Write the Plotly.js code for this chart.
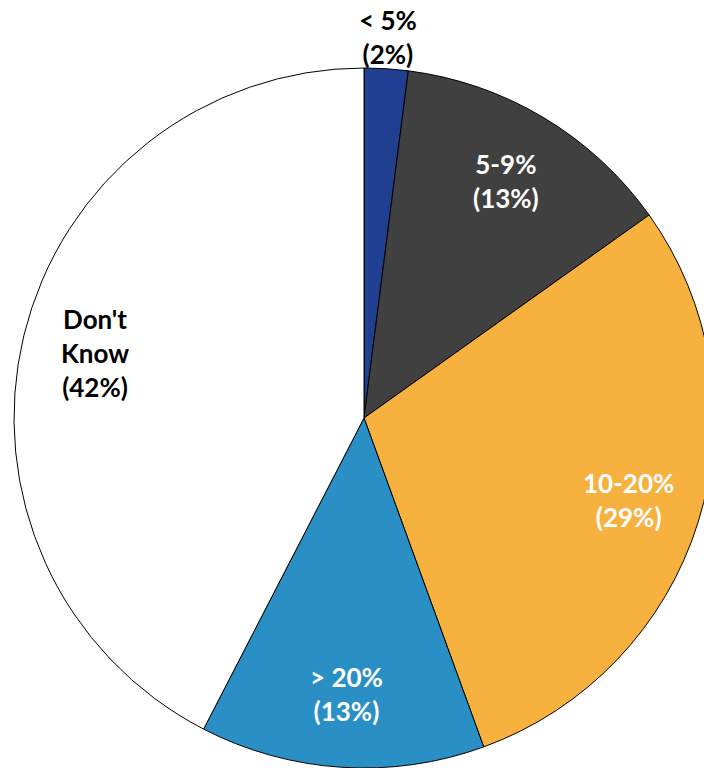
<!DOCTYPE html>
<html>
<head>
<meta charset="utf-8">
<script src="https://cdn.plot.ly/plotly-3.0.1.min.js"></script>
<style>
html, body { margin: 0; padding: 0; overflow: hidden; background: #ffffff; width: 704px; height: 768px; }
#chart { position: absolute; left: 0; top: 0; width: 720px; height: 768px; }
</style>
</head>
<body>
<div id="chart"></div>
<script>
// Data
const categories = ["< 5%", "5-9%", "10-20%", "> 20%", "Don't Know"];
const displayLabels = ["< 5%", "5-9%", "10-20%", "> 20%", "Don't<br>Know"];
const shares = [2, 13, 29, 13, 42];
const sliceColors = ["#203f91", "#404040", "#f7b13f", "#2a8fc4", "#ffffff"];
const textColors = ["#000000", "#ffffff", "#ffffff", "#ffffff", "#000000"];

const total = shares.reduce((a, b) => a + b, 0);

// Label positions derived from each slice's mid-angle (clockwise from 12 o'clock)
const annotations = [];
let cum = 0;
shares.forEach((v, i) => {
  const mid = (cum + v / 2) / total * 2 * Math.PI;
  cum += v;
  const outside = v < 5;
  const r = outside ? 0.5 * 1.09 : 0.5 * 0.79;
  annotations.push({
    xref: "paper", yref: "paper",
    x: 0.5 + r * Math.sin(mid),
    y: 0.5 + r * Math.cos(mid),
    text: displayLabels[i] + "<br>(" + v + "%)",
    showarrow: false,
    xanchor: "center", yanchor: "middle",
    align: "center",
    font: { family: "Lato, 'Open Sans', sans-serif", size: 26, color: textColors[i], weight: 700 }
  });
});

const trace = {
  type: "pie",
  labels: categories,
  values: shares,
  sort: false,
  direction: "clockwise",
  rotation: 0,
  marker: { colors: sliceColors, line: { color: "#000000", width: 1 } },
  textinfo: "none",
  hoverinfo: "label+value",
  showlegend: false
};

const layout = {
  width: 720,
  height: 768,
  margin: { l: 14, r: 6, t: 68, b: 0, pad: 0 },
  paper_bgcolor: "#ffffff",
  plot_bgcolor: "#ffffff",
  showlegend: false,
  annotations: annotations
};

Plotly.newPlot("chart", [trace], layout, { displayModeBar: false, staticPlot: true });
</script>
</body>
</html>
